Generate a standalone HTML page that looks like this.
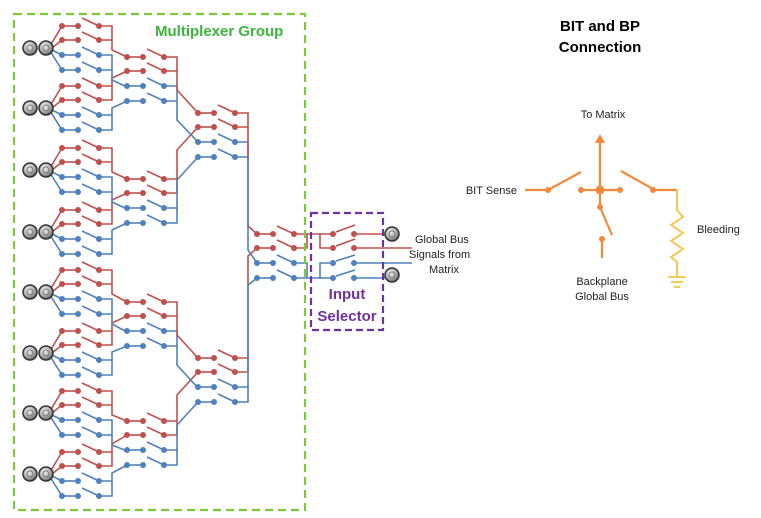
<!DOCTYPE html>
<html><head><meta charset="utf-8"><style>
html,body{margin:0;padding:0;background:#fff;}
svg{display:block;font-family:"Liberation Sans",sans-serif;}
</style></head><body>
<svg width="761" height="518" viewBox="0 0 761 518" xmlns="http://www.w3.org/2000/svg">
<defs>
<g id="sw" stroke="currentColor" fill="currentColor" stroke-width="1.6">
<line x1="0" y1="0" x2="16" y2="0"/><circle cx="0" cy="0" r="3" stroke="none"/><circle cx="16" cy="0" r="3" stroke="none"/>
<line x1="20" y1="-8" x2="37" y2="0"/><circle cx="37" cy="0" r="3" stroke="none"/>
</g>
<g id="blk" fill="none" stroke-width="1.6">
<g color="#c0504d"><use href="#sw" y="-22"/><use href="#sw" y="-8"/><path d="M37,-22H50V-8H37" stroke="#c0504d"/></g>
<g color="#4f81bd"><use href="#sw" y="7"/><use href="#sw" y="22"/><path d="M37,7H50V22H37" stroke="#4f81bd"/></g>
</g>
<radialGradient id="cg" cx="0.4" cy="0.35" r="0.7"><stop offset="0" stop-color="#f4f4f4"/><stop offset="0.6" stop-color="#aaa"/><stop offset="1" stop-color="#555"/></radialGradient>
<g id="con"><circle r="7" fill="url(#cg)" stroke="#333" stroke-width="1.5"/><circle r="3" fill="none" stroke="#777" stroke-width="1"/></g>
<g id="grp">
<path d="M50,-2L62,-22M52,0L62,-8" stroke="#c0504d" stroke-width="1.6" fill="none"/>
<path d="M52,2L62,7M50,3L62,22" stroke="#4f81bd" stroke-width="1.6" fill="none"/>
<use href="#blk" x="62"/>
<use href="#con" x="30"/><use href="#con" x="46"/>
</g>
</defs>
<!-- stage1 groups -->
<use href="#grp" y="48"/><use href="#grp" y="108"/><use href="#grp" y="170"/><use href="#grp" y="232"/>
<use href="#grp" y="292"/><use href="#grp" y="353"/><use href="#grp" y="413"/><use href="#grp" y="474"/>
<!-- stage2 -->
<use href="#blk" x="127" y="79"/><use href="#blk" x="127" y="201"/><use href="#blk" x="127" y="324"/><use href="#blk" x="127" y="443"/>
<!-- stage3 -->
<use href="#blk" x="198" y="135"/><use href="#blk" x="198" y="380"/>
<!-- stage4 -->
<use href="#blk" x="257" y="256"/>
<g fill="none" stroke-width="1.6">
<g stroke="#c0504d">
<!-- s1->s2 -->
<path d="M112,40V50L127,57"/><path d="M112,86V78L127,71"/>
<path d="M112,162V172L127,179"/><path d="M112,210V200L127,193"/>
<path d="M112,284V294L127,302"/><path d="M112,331V323L127,316"/>
<path d="M112,405V415L127,421"/><path d="M112,452V444L127,435"/>
<!-- s2->s3 -->
<path d="M177,71V90L198,113"/><path d="M177,179V150L198,127"/>
<path d="M177,316V335L198,358"/><path d="M177,421V395L198,372"/>
<!-- s3->s4 -->
<path d="M248,127V226L257,234"/><path d="M248,358V256L257,248"/>
<!-- to selector -->
<path d="M307,234H333M320,234V248H333"/>
</g>
<g stroke="#4f81bd">
<path d="M112,70V80L127,87"/><path d="M112,115V108L127,101"/>
<path d="M112,192V202L127,209"/><path d="M112,239V230L127,223"/>
<path d="M112,314V324L127,332"/><path d="M112,360V352L127,346"/>
<path d="M112,435V445L127,451"/><path d="M112,481V473L127,465"/>
<path d="M177,101V120L198,142"/><path d="M177,209V180L198,157"/>
<path d="M177,346V365L198,388"/><path d="M177,451V425L198,402"/>
<path d="M248,157V250L257,263"/><path d="M248,388V285L257,278"/>
<path d="M307,278H333M320,278V263H333"/>
</g>
</g>
<!-- input selector switches -->
<g stroke-width="1.6">
<g stroke="#c0504d" fill="#c0504d">
<circle cx="333" cy="234" r="3" stroke="none"/><circle cx="354" cy="234" r="3" stroke="none"/><line x1="336" y1="232" x2="355" y2="225"/><line x1="354" y1="234" x2="385" y2="234"/>
<circle cx="333" cy="248" r="3" stroke="none"/><circle cx="354" cy="248" r="3" stroke="none"/><line x1="336" y1="246" x2="355" y2="239"/><line x1="354" y1="248" x2="412" y2="248"/>
</g>
<g stroke="#4f81bd" fill="#4f81bd">
<circle cx="333" cy="263" r="3" stroke="none"/><circle cx="354" cy="263" r="3" stroke="none"/><line x1="336" y1="261" x2="355" y2="255"/><line x1="354" y1="263" x2="412" y2="263"/>
<circle cx="333" cy="278" r="3" stroke="none"/><circle cx="354" cy="278" r="3" stroke="none"/><line x1="336" y1="276" x2="355" y2="270"/><line x1="354" y1="278" x2="385" y2="278"/>
</g>
</g>
<use href="#con" x="392" y="234"/><use href="#con" x="392" y="275"/>
<!-- boxes -->
<rect x="14" y="14" width="291" height="496" fill="none" stroke="#7ec83c" stroke-width="2.2" stroke-dasharray="8,5"/>
<rect x="311" y="213" width="72" height="117" fill="none" stroke="#7030a0" stroke-width="2.2" stroke-dasharray="7,4"/>
<rect x="152" y="20" width="150" height="20" fill="#fff"/>
<text x="155" y="36" font-size="15" font-weight="bold" fill="#3cb53c">Multiplexer Group</text>
<text x="347" y="299" font-size="15" font-weight="bold" fill="#7030a0" text-anchor="middle">Input</text>
<text x="347" y="321" font-size="15" font-weight="bold" fill="#7030a0" text-anchor="middle">Selector</text>
<g font-size="11" fill="#222">
<text x="415" y="243">Global Bus</text>
<text x="409" y="258">Signals from</text>
<text x="429" y="273">Matrix</text>
</g>
<!-- right -->
<text x="600" y="31" font-size="15" font-weight="bold" text-anchor="middle" fill="#000">BIT and BP</text>
<text x="600" y="52" font-size="15" font-weight="bold" text-anchor="middle" fill="#000">Connection</text>
<g font-size="11" fill="#222">
<text x="603" y="118" text-anchor="middle">To Matrix</text>
<text x="517" y="194" text-anchor="end">BIT Sense</text>
<text x="697" y="233">Bleeding</text>
<text x="602" y="285" text-anchor="middle">Backplane</text>
<text x="602" y="300" text-anchor="middle">Global Bus</text>
</g>
<g stroke="#f28a3a" fill="#f28a3a" stroke-width="2.2">
<line x1="600" y1="190" x2="600" y2="142"/><polygon points="600,134 595,143 605,143" stroke="none"/>
<line x1="581" y1="190" x2="620" y2="190"/>
<circle cx="581" cy="190" r="3" stroke="none"/><circle cx="620" cy="190" r="3" stroke="none"/><circle cx="600" cy="190" r="4.5" stroke="none"/>
<line x1="525" y1="190" x2="548" y2="190"/><circle cx="548" cy="190" r="3" stroke="none"/><line x1="548" y1="190" x2="581" y2="172"/>
<line x1="621" y1="171" x2="653" y2="189"/><circle cx="653" cy="190" r="3" stroke="none"/><line x1="653" y1="190" x2="677" y2="190"/>
<line x1="600" y1="190" x2="600" y2="207"/><circle cx="600" cy="207" r="3" stroke="none"/><line x1="600" y1="207" x2="612" y2="235"/>
<circle cx="602" cy="239" r="3" stroke="none"/><line x1="602" y1="239" x2="602" y2="258"/>
</g>
<g stroke="#f5c242" fill="none" stroke-width="1.8">
<path d="M677,190V210L683,217L671,225L683,233L671,241L683,249L671,257L677,262V277"/>
<path d="M668,277H686M671,282H683M674,287H680"/>
</g>
</svg>
</body></html>
